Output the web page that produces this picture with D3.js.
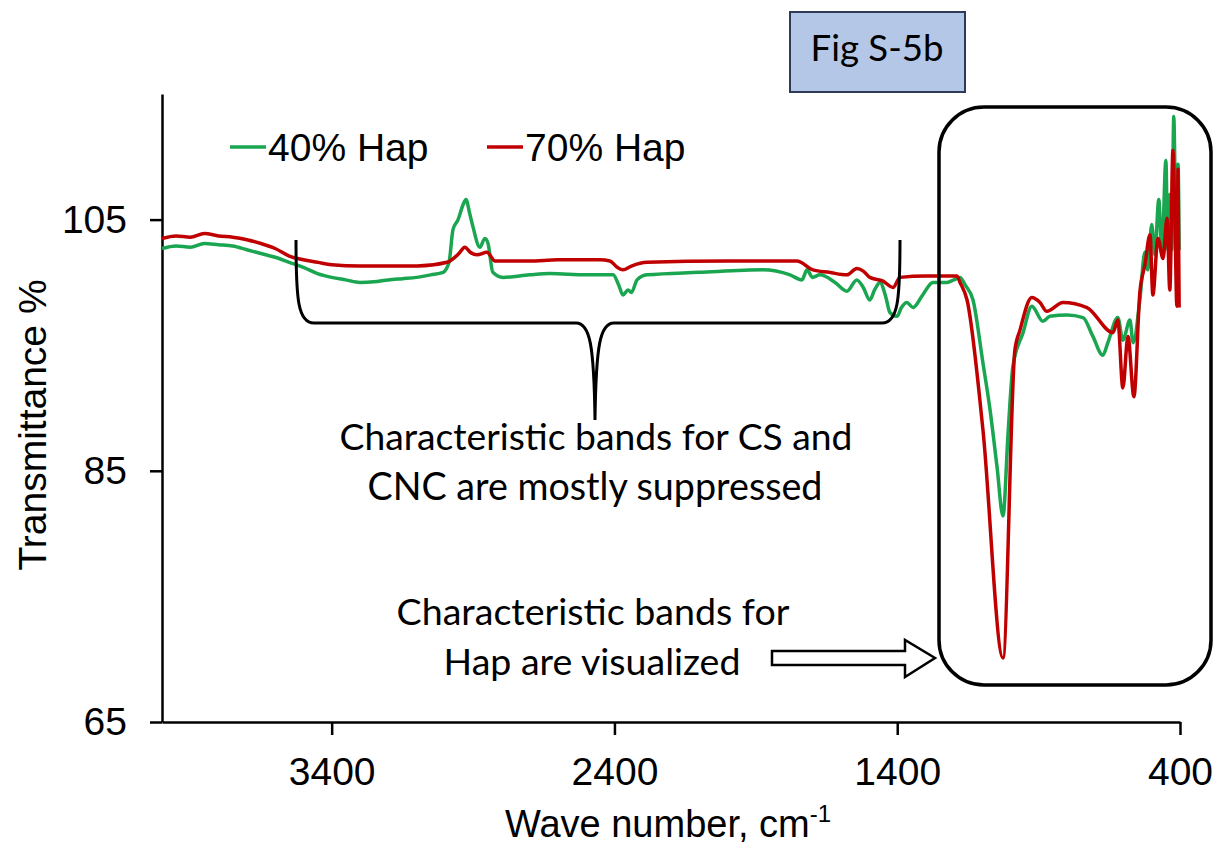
<!DOCTYPE html>
<html>
<head>
<meta charset="utf-8">
<script src="https://cdn.jsdelivr.net/npm/d3@7"></script>
<style>
  body { margin: 0; background: #fff; }
  svg { display: block; }
  .axis path, .axis line { stroke: #000; stroke-width: 2.5px; }
  .axis text { font-family: "Liberation Sans", Arial, sans-serif; font-size: 39px; fill: #000; }
  .lab { font-family: "Liberation Sans", Arial, sans-serif; fill: #000; }
  .note { font-family: Lato, "Open Sans", sans-serif; fill: #000; }
</style>
</head>
<body>
<div id="chart"></div>
<script>
// wave number (cm-1) and transmittance (%)
let wn40 = [4000, 3950, 3900, 3850, 3800, 3750, 3700, 3650, 3600, 3550, 3500, 3450, 3400, 3350, 3300, 3250, 3200, 3150,
    3100, 3050, 3006, 2985, 2971, 2953, 2935, 2925, 2912, 2900, 2876, 2858, 2847, 2830, 2794, 2700, 2628, 2500, 2405,
    2385, 2370, 2352, 2340, 2320, 2285, 2100, 1875, 1779, 1737, 1719, 1700, 1673, 1620, 1578, 1543, 1520, 1497, 1480,
    1461, 1440, 1426, 1401, 1385, 1366, 1344, 1310, 1274, 1224, 1200, 1178, 1160, 1132, 1097, 1072, 1047, 1026, 1008,
    991, 955, 924, 885, 860, 800, 743, 708, 673, 655, 620, 602, 577, 566, 542, 524, 514, 500, 489, 475, 464, 450, 443,
    436, 429, 422, 415, 407, 403];
let t40 = [102.7, 102.9, 102.8, 103.1, 103.0, 102.9, 102.6, 102.3, 102.0, 101.6, 101.2, 100.7, 100.4, 100.2, 100.0, 100.05,
    100.2, 100.3, 100.4, 100.6, 100.8, 101.6, 104.2, 105.0, 106.2, 106.6, 105.5, 104.4, 102.8, 103.5, 103.1, 100.8, 100.4,
    100.6, 100.7, 100.6, 100.6, 99.8, 99.0, 99.4, 99.2, 100.2, 100.6, 100.8, 101.0, 100.6, 100.2, 101.0, 100.4, 100.6,
    100.0, 99.3, 100.2, 99.6, 98.6, 99.4, 100.0, 98.8, 97.6, 97.3, 98.0, 98.4, 98.0, 99.0, 100.0, 100.0, 100.2, 100.4,
    99.8, 98.6, 93.6, 89.9, 85.3, 81.4, 88.0, 93.3, 96.0, 98.1, 96.9, 97.3, 97.4, 97.2, 95.7, 94.2, 95.2, 97.2, 95.4,
    97.0, 95.2, 98.6, 102.4, 101.0, 104.6, 102.2, 106.6, 102.2, 109.7, 102.6, 107.0, 102.6, 113.2, 105.8, 109.4, 102.6];

let wn70 = [4000, 3950, 3900, 3850, 3800, 3750, 3700, 3650, 3600, 3550, 3500, 3450, 3400, 3300, 3200, 3098, 2992, 2950,
    2929, 2910, 2886, 2851, 2822, 2700, 2600, 2451, 2416, 2390, 2370, 2340, 2285, 2000, 1755, 1698, 1640, 1578, 1543,
    1520, 1497, 1450, 1415, 1390, 1300, 1189, 1178, 1153, 1097, 1026, 984, 966, 924, 895, 871, 814, 729, 637, 620, 602,
    584, 563, 542, 524, 506, 496, 478, 460, 446, 436, 425, 418, 411, 407, 403];
let t70 = [103.5, 103.7, 103.6, 103.9, 103.7, 103.6, 103.4, 103.1, 102.7, 102.1, 101.8, 101.6, 101.4, 101.3, 101.3, 101.3,
    101.6, 102.3, 102.8, 102.4, 102.2, 102.4, 101.7, 101.7, 101.8, 101.8, 101.7, 101.2, 101.0, 101.3, 101.6, 101.7, 101.7,
    101.0, 100.8, 100.6, 101.1, 100.9, 100.4, 100.1, 99.6, 100.4, 100.5, 100.5, 100.0, 98.6, 88.3, 70.1, 94.6, 96.2, 98.8,
    98.4, 97.7, 98.4, 98.0, 96.0, 97.0, 91.6, 95.7, 90.9, 99.2, 101.4, 103.8, 99.0, 103.5, 101.9, 105.1, 99.4, 110.5,
    105.0, 98.1, 109.0, 98.0];

let seriesNames = ["40% Hap", "70% Hap"];
let seriesColors = ["#1aa550", "#c00000"];
let xTicks = [3400, 2400, 1400, 400];
let yTicks = [65, 85, 105];

let W = 1227, H = 850;
let x = d3.scaleLinear().domain([4000, 400]).range([162, 1180]);
let y = d3.scaleLinear().domain([65, 115]).range([722, 94]);

let svg = d3.select("#chart").append("svg")
    .attr("width", W)
    .attr("height", H);

// axes
svg.append("g")
    .attr("class", "axis")
    .attr("transform", "translate(0,722)")
    .call(d3.axisBottom(x).tickValues(xTicks).tickFormat(d3.format("d")).tickSize(13).tickSizeOuter(0).tickPadding(22));

svg.append("g")
    .attr("class", "axis")
    .attr("transform", "translate(162,0)")
    .call(d3.axisLeft(y).tickValues(yTicks).tickSize(12).tickSizeOuter(0).tickPadding(23));

svg.append("text")
    .attr("class", "lab")
    .attr("transform", "translate(46,425) rotate(-90)")
    .attr("text-anchor", "middle")
    .style("font-size", "39px")
    .text("Transmittance %");

let xt = svg.append("text")
    .attr("class", "lab")
    .attr("x", 668)
    .attr("y", 837)
    .attr("text-anchor", "middle")
    .style("font-size", "38px");
xt.append("tspan").text("Wave number, cm");
xt.append("tspan").attr("dy", -15).style("font-size", "24px").text("-1");

// spectra
let line = d3.line()
    .x(function (d) { return x(d[0]); })
    .y(function (d) { return y(d[1]); })
    .curve(d3.curveMonotoneX);

let series = [d3.zip(wn40, t40), d3.zip(wn70, t70)];

svg.selectAll(".spec")
    .data(series)
    .enter()
    .append("path")
    .attr("class", "spec")
    .attr("d", line)
    .attr("fill", "none")
    .attr("stroke", function (d, i) { return seriesColors[i]; })
    .attr("stroke-width", 3.5)
    .attr("stroke-linejoin", "round");

// legend
let legX = [230, 487];
seriesNames.forEach(function (name, i) {
    svg.append("line")
        .attr("x1", legX[i]).attr("x2", legX[i] + 36)
        .attr("y1", 147).attr("y2", 147)
        .attr("stroke", seriesColors[i])
        .attr("stroke-width", 3.5);
    svg.append("text")
        .attr("class", "lab")
        .attr("x", legX[i] + 38)
        .attr("y", 161)
        .style("font-size", "39px")
        .text(name);
});

// annotations
svg.append("path")
    .attr("d", "M296,240 C296,300 298,323 314,323 L576,323 C590,323 594,345 595,420 C596,345 600,323 614,323 L882,323 C898,323 900,300 900,240")
    .attr("fill", "none")
    .attr("stroke", "#000")
    .attr("stroke-width", 3);

svg.append("rect")
    .attr("x", 939).attr("y", 107)
    .attr("width", 272).attr("height", 578)
    .attr("rx", 45)
    .attr("fill", "none")
    .attr("stroke", "#000")
    .attr("stroke-width", 3.5);

svg.append("polygon")
    .attr("points", "772,651 905,651 905,640 935,658 905,677 905,665 772,665")
    .attr("fill", "#fff")
    .attr("stroke", "#000")
    .attr("stroke-width", 2.5);

svg.append("rect")
    .attr("x", 790).attr("y", 12)
    .attr("width", 175).attr("height", 80)
    .attr("fill", "#b4c7e7")
    .attr("stroke", "#2f3b56")
    .attr("stroke-width", 2);

// text lines sized to the widths seen in the figure
let notes = [
    {t: "Fig S-5b", cx: 877, y: 61, w: 133},
    {t: "Characteristic bands for CS and", cx: 596, y: 450, w: 513},
    {t: "CNC are mostly suppressed", cx: 595, y: 500, w: 455},
    {t: "Characteristic bands for", cx: 593, y: 625, w: 393},
    {t: "Hap are visualized", cx: 592, y: 675, w: 297}
];
notes.forEach(function (n) {
    let el = svg.append("text")
        .attr("class", "note")
        .attr("x", n.cx)
        .attr("y", n.y)
        .attr("text-anchor", "middle")
        .style("font-size", "36px")
        .text(n.t);
    let len = el.node().getComputedTextLength();
    el.style("font-size", (36 * n.w / len) + "px");
});
</script>
</body>
</html>
